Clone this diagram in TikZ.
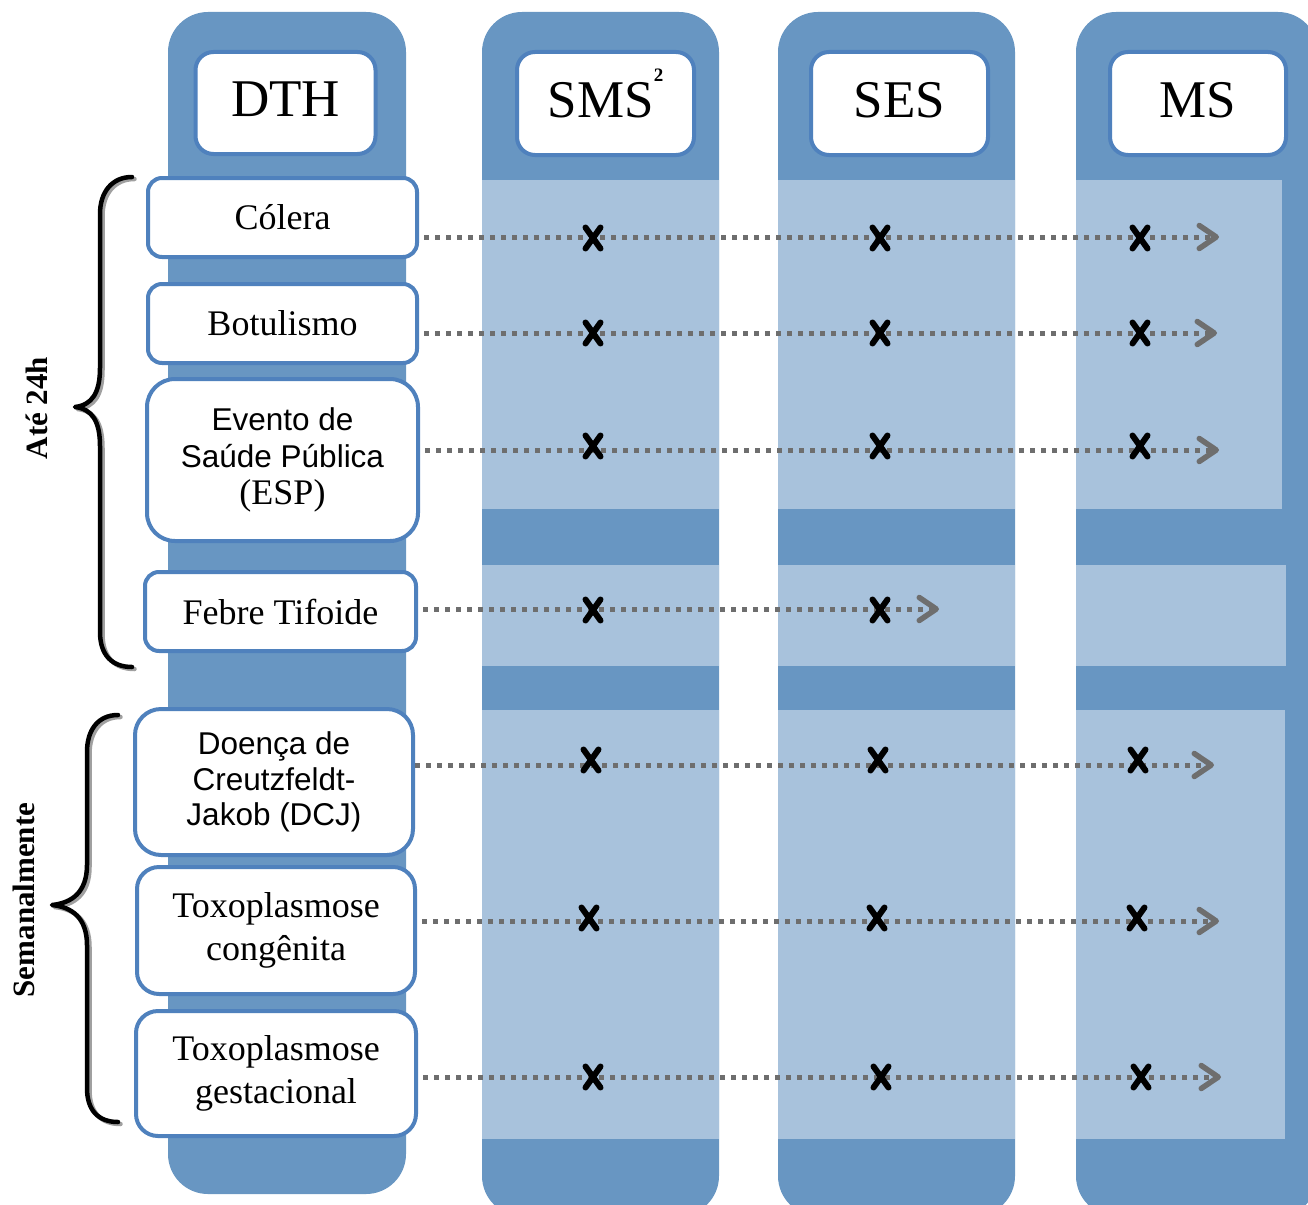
\documentclass[tikz,border=0pt]{standalone}
\usepackage{fontspec}
\setmainfont{Liberation Serif}
\setsansfont{Liberation Sans}
\usetikzlibrary{arrows.meta}
\definecolor{coldark}{HTML}{6896C2}
\definecolor{collight}{HTML}{A8C2DC}
\definecolor{boxblue}{HTML}{4F81BD}
\definecolor{flowgray}{HTML}{6E6E6E}
\definecolor{shadowgray}{HTML}{A0A0A0}
\begin{document}
\begin{tikzpicture}[x=1pt,y=-1pt,
  colbar/.style={fill=coldark, draw=none, rounded corners=40pt},
  band/.style={fill=collight, draw=none},
  hdr/.style={draw=boxblue, line width=4pt, fill=white, rounded corners=18pt,
    inner sep=0pt, text depth=8pt, font=\fontsize{53}{60}\selectfont},
  item/.style={draw=boxblue, line width=4pt, fill=white, inner sep=0pt,
    align=center, font=\fontsize{36}{43.5}\selectfont},
  sansitem/.style={item, font=\sffamily\fontsize{31.5}{37}\selectfont},
  flow/.style={draw=flowgray, line width=5pt, dash pattern=on 5pt off 6pt,
    shorten <=5pt, -{Straight Barb[length=17pt,width=23pt,round,line width=5.5pt]}},
  xmark/.pic={\draw[line width=6pt, line cap=round, black]
    (-7.5,-10.5) -- (7.5,10.5) (-7.5,10.5) -- (7.5,-10.5);},
  bracesty/.style={line width=4.5pt, line cap=round, line join=round},
  sidelabel/.style={rotate=90, font=\bfseries\fontsize{31}{31}\selectfont}
]
\path[use as bounding box] (0,0) rectangle (1308,1204);
\clip (0,0) rectangle (1308,1204);

% columns
\path[colbar] (168,12) rectangle (406,1194);
\path[colbar] (482,12) rectangle (719,1216);
\path[colbar] (778,12) rectangle (1015,1216);
\path[colbar] (1076,12) rectangle (1318,1216);

% light bands
\foreach \a/\b in {482/719, 778/1015}{
  \path[band] (\a,180) rectangle (\b,509);
  \path[band] (\a,565) rectangle (\b,666);
  \path[band] (\a,710) rectangle (\b,1139);
}
\path[band] (1076,180) rectangle (1282,509);
\path[band] (1076,565) rectangle (1286,666);
\path[band] (1076,710) rectangle (1285,1139);

% headers
\node[hdr, minimum width=180pt, minimum height=102pt] (dth) at (285.5,103) {DTH};
\node[hdr, minimum width=177pt, minimum height=103pt] (sms) at (605.5,103.5)
  {SMS\raisebox{36pt}[0pt][0pt]{\bfseries\fontsize{19}{19}\selectfont 2}};
\node[hdr, minimum width=177pt, minimum height=103pt] (ses) at (899.5,103.5) {SES};
\node[hdr, minimum width=176pt, minimum height=103pt] (ms) at (1198,103.5) {MS};

% row boxes
\node[item, minimum width=269pt, minimum height=79pt, rounded corners=14pt] (colera) at (282.5,217.5) {Cólera};
\node[item, minimum width=269pt, minimum height=79pt, rounded corners=14pt] (botulismo) at (282.5,323.5) {Botulismo};
\node[sansitem, minimum width=271pt, minimum height=162pt, rounded corners=28pt] (esp) at (282.5,460)
  {Evento de\\Saúde Pública\\{\rmfamily\fontsize{36}{37}\selectfont (ESP)}};
\node[item, minimum width=271pt, minimum height=79pt, rounded corners=14pt] (febre) at (280.5,611.5) {Febre Tifoide};
\node[sansitem, minimum width=278pt, minimum height=146pt, rounded corners=26pt,
  font=\sffamily\fontsize{31.5}{35.5}\selectfont] (dcj) at (274,782)
  {Doença de\\Creutzfeldt-\\Jakob (DCJ)};
\node[item, minimum width=278pt, minimum height=127pt, rounded corners=22pt] (toxoc) at (276,930.5)
  {Toxoplasmose\\congênita};
\node[item, minimum width=280pt, minimum height=125pt, rounded corners=22pt] (toxog) at (276,1073.5)
  {Toxoplasmose\\gestacional};

% arrow end points
\coordinate (e1) at (1219,237);
\coordinate (e2) at (1217,333);
\coordinate (e3) at (1219,450);
\coordinate (e4) at (939,609);
\coordinate (e5) at (1214,765);
\coordinate (e6) at (1219,921);
\coordinate (e7) at (1221,1077);

\draw[flow] (colera.east |- e1) -- (e1);
\draw[flow] (botulismo.east |- e2) -- (e2);
\draw[flow] (esp.east |- e3) -- (e3);
\draw[flow] (febre.east |- e4) -- (e4);
\draw[flow, shorten <=0pt] (dcj.east |- e5) -- (e5);
\draw[flow] (toxoc.east |- e6) -- (e6);
\draw[flow] (toxog.east |- e7) -- (e7);

% crosses
\foreach \x/\y in {593/238, 880/238, 1140/238,
                   593/333, 880/333, 1140/333,
                   593/446, 880/446, 1140/446,
                   593/610, 880/610,
                   591/760, 878/760, 1138/760,
                   589/918, 877/918, 1137/918,
                   593/1077, 881/1077, 1141/1077}{
  \pic at (\x,\y) {xmark};
}

% braces
\begin{scope}[shift={(2.5,2)}]
\draw[bracesty, shadowgray] (132,177) .. controls (112,177) and (100,192) .. (100,214) -- (100,368)
  .. controls (100,393) and (92,405) .. (75,407) .. controls (92,409) and (100,421) .. (100,446)
  -- (100,632) .. controls (100,655) and (112,667) .. (132,667);
\draw[bracesty, shadowgray] (118,715) .. controls (98,715) and (87,730) .. (87,752) -- (87,865)
  .. controls (87,892) and (72,903) .. (52,905) .. controls (72,907) and (87,918) .. (87,945)
  -- (87,1088) .. controls (87,1110) and (98,1122) .. (118,1122);
\end{scope}
\draw[bracesty, black] (132,177) .. controls (112,177) and (100,192) .. (100,214) -- (100,368)
  .. controls (100,393) and (92,405) .. (75,407) .. controls (92,409) and (100,421) .. (100,446)
  -- (100,632) .. controls (100,655) and (112,667) .. (132,667);
\draw[bracesty, black] (118,715) .. controls (98,715) and (87,730) .. (87,752) -- (87,865)
  .. controls (87,892) and (72,903) .. (52,905) .. controls (72,907) and (87,918) .. (87,945)
  -- (87,1088) .. controls (87,1110) and (98,1122) .. (118,1122);

\node[sidelabel] (ate) at (37,408) {Até 24h};
\node[sidelabel] (sem) at (24,900) {Semanalmente};
\end{tikzpicture}
\end{document}
